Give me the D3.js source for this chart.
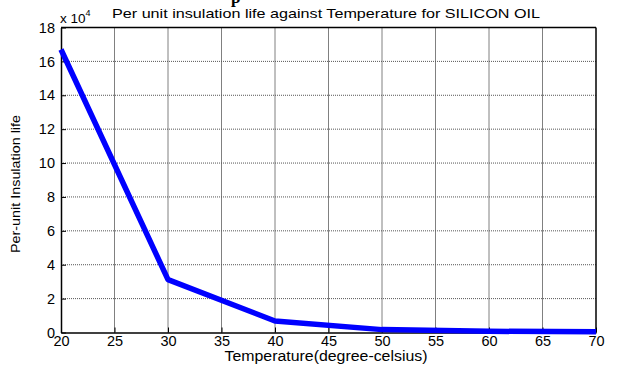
<!DOCTYPE html>
<html>
<head>
<style>
  body { margin: 0; background: #fff; }
  text { font-family: "Liberation Sans", Arial, sans-serif; fill: #000; }
</style>
<script src="https://d3js.org/d3.v7.min.js"></script>
</head>
<body>
<svg id="chart" width="618" height="368"></svg>
<script>
// data (life in units of 10^4)
var temps = [20, 30, 40, 50, 60, 70];
var life = [16.7, 3.12, 0.68, 0.17, 0.07, 0.05];
var xTicks = [20, 25, 30, 35, 40, 45, 50, 55, 60, 65, 70];
var yTicks = [0, 2, 4, 6, 8, 10, 12, 14, 16, 18];

var svg = d3.select("#chart");
var plotL = 61, plotR = 596, plotT = 27.5, plotB = 332.5;

var x = d3.scaleLinear().domain([20, 70]).range([plotL, plotR]);
var y = d3.scaleLinear().domain([0, 18]).range([plotB, plotT]);

// grid (dotted)
svg.append("g").selectAll("line").data(xTicks.slice(1, -1)).enter().append("line")
  .attr("x1", d => x(d)).attr("x2", d => x(d))
  .attr("y1", plotT).attr("y2", plotB)
  .attr("stroke", "#000").attr("stroke-width", 1).attr("stroke-dasharray", "1,1");
svg.append("g").selectAll("line").data(yTicks.slice(1, -1)).enter().append("line")
  .attr("x1", plotL).attr("x2", plotR)
  .attr("y1", d => y(d)).attr("y2", d => y(d))
  .attr("stroke", "#555").attr("stroke-width", 1).attr("stroke-dasharray", "1,1");

// axes with inner ticks
var xAxis = svg.append("g").attr("transform", "translate(0," + plotB + ")")
  .call(d3.axisBottom(x).tickValues(xTicks).tickSizeInner(-5).tickSizeOuter(0).tickPadding(3));
var yAxis = svg.append("g").attr("transform", "translate(" + plotL + ",0)")
  .call(d3.axisLeft(y).tickValues(yTicks).tickSizeInner(-5).tickSizeOuter(0).tickPadding(6));
[xAxis, yAxis].forEach(function(a) {
  a.selectAll("text").style("font-family", "Liberation Sans, Arial, sans-serif").style("font-size", "14.5px").attr("fill", "#000");
  a.select(".domain").attr("stroke", "#000").attr("stroke-width", 1.5);
});
xAxis.selectAll("text").attr("y", 3).attr("dy", "0.71em");

// box top/right
svg.append("line").attr("x1", plotL).attr("x2", plotR).attr("y1", plotT).attr("y2", plotT).attr("stroke", "#000").attr("stroke-width", 1.5);
svg.append("line").attr("x1", plotR).attr("x2", plotR).attr("y1", plotT).attr("y2", plotB).attr("stroke", "#000").attr("stroke-width", 1.5);

// series
var line = d3.line().x((d, i) => x(temps[i])).y(d => y(d));
svg.append("path").datum(life)
  .attr("d", line)
  .attr("fill", "none").attr("stroke", "#0000ff").attr("stroke-width", 5.5)
  .attr("stroke-linejoin", "round");

// labels
svg.append("text").attr("x", 326).attr("y", 18).attr("text-anchor", "middle")
  .style("font-size", "13.5px").attr("textLength", 428).attr("lengthAdjust", "spacingAndGlyphs")
  .text("Per unit insulation life against Temperature for SILICON OIL");
svg.append("text").attr("x", 60).attr("y", 23).style("font-size", "13.5px")
  .text("x 10").append("tspan").attr("dy", -7).style("font-size", "9px").text("4");
svg.append("text").attr("x", 326).attr("y", 361).attr("text-anchor", "middle")
  .style("font-size", "14px").attr("textLength", 203).attr("lengthAdjust", "spacingAndGlyphs")
  .text("Temperature(degree-celsius)");
svg.append("text").attr("transform", "translate(20,184) rotate(-90)").attr("text-anchor", "middle")
  .style("font-size", "13px").attr("textLength", 138).attr("lengthAdjust", "spacingAndGlyphs")
  .text("Per-unit Insulation life");

// cut-off heading letter at the very top
svg.append("text").attr("x", 231).attr("y", 3)
  .style("font-family", "Liberation Serif, serif").style("font-weight", "bold").style("font-size", "17px")
  .text("p");
</script>
</body>
</html>
